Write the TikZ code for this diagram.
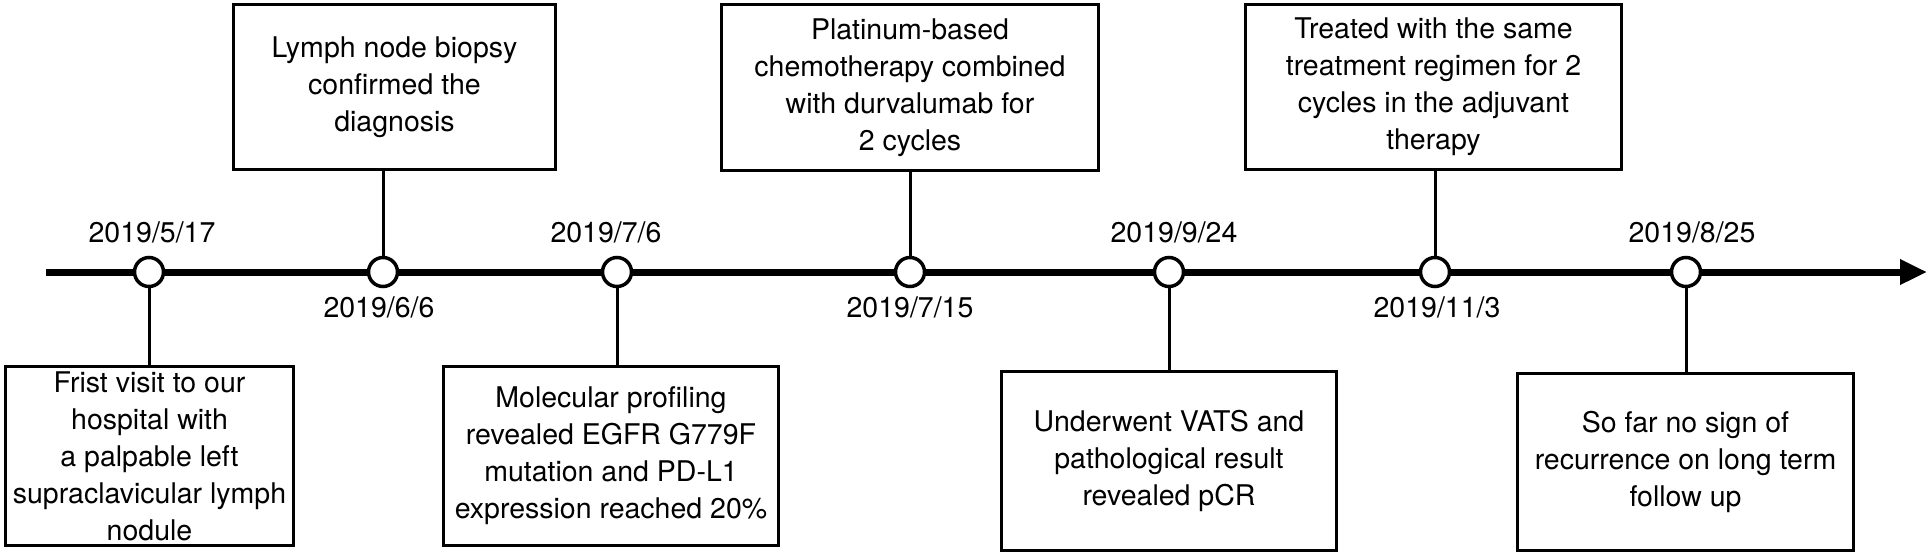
\documentclass[tikz,border=0pt]{standalone}
\usepackage{fontspec}
\setmainfont{TeX Gyre Heros}
\usetikzlibrary{arrows.meta}
\tikzset{
  evbox/.style={draw, line width=3.2pt, align=center, inner sep=0pt,
    font=\fontsize{28.5}{37}\selectfont},
  evdot/.style={circle, draw, line width=3.5pt, fill=white, minimum size=29pt, inner sep=0pt},
  datelbl/.style={font=\fontsize{28.5}{34}\selectfont, inner sep=0pt},
  link/.style={line width=3pt},
  axis/.style={line width=7pt, -{Triangle[length=27pt,width=24pt]}}
}
\begin{document}
\begin{tikzpicture}[x=1pt,y=-1pt]
\useasboundingbox (0,0) rectangle (1928,555);
% axis
\coordinate (start) at (46,272);
\coordinate (end) at (1927,272);
\draw[axis] (start) -- (end);
% event dots (positions)
\coordinate (p1) at (149,272);
\coordinate (p2) at (383,272);
\coordinate (p3) at (617,272);
\coordinate (p4) at (910,272);
\coordinate (p5) at (1169,272);
\coordinate (p6) at (1435,272);
\coordinate (p7) at (1686,272);
% boxes
\node[evbox, minimum width=288pt, minimum height=179pt] (b1) at (149.5,456)
  {Frist visit to our\\hospital with\\a palpable left\\supraclavicular lymph\\nodule};
\node[evbox, minimum width=322pt, minimum height=165pt] (b2) at (394.5,87)
  {Lymph node biopsy\\confirmed the\\diagnosis};
\node[evbox, minimum width=335pt, minimum height=179pt] (b3) at (611,456)
  {Molecular profiling\\revealed EGFR G779F\\mutation and PD-L1\\expression reached 20\%};
\node[evbox, minimum width=377pt, minimum height=166pt] (b4) at (910,87.5)
  {Platinum-based\\chemotherapy combined\\with durvalumab for\\2 cycles};
\node[evbox, minimum width=335pt, minimum height=179pt] (b5) at (1169,461)
  {Underwent VATS and\\pathological result\\revealed pCR};
\node[evbox, minimum width=376pt, minimum height=165pt] (b6) at (1433.5,87)
  {Treated with the same\\treatment regimen for 2\\cycles in the adjuvant\\therapy};
\node[evbox, minimum width=336pt, minimum height=177pt] (b7) at (1685.5,462)
  {So far no sign of\\recurrence on long term\\follow up};
% connectors
\draw[link] (p1) -- (p1 |- b1.north);
\draw[link] (p2) -- (p2 |- b2.south);
\draw[link] (p3) -- (p3 |- b3.north);
\draw[link] (p4) -- (p4 |- b4.south);
\draw[link] (p5) -- (p5 |- b5.north);
\draw[link] (p6) -- (p6 |- b6.south);
\draw[link] (p7) -- (p7 |- b7.north);
% dots
\node[evdot] (c1) at (p1) {};
\node[evdot] (c2) at (p2) {};
\node[evdot] (c3) at (p3) {};
\node[evdot] (c4) at (p4) {};
\node[evdot] (c5) at (p5) {};
\node[evdot] (c6) at (p6) {};
\node[evdot] (c7) at (p7) {};
% dates
\node[datelbl] (d1) at (152,232) {2019/5/17};
\node[datelbl] (d2) at (379,307) {2019/6/6};
\node[datelbl] (d3) at (606,232) {2019/7/6};
\node[datelbl] (d4) at (910,307) {2019/7/15};
\node[datelbl] (d5) at (1174,232) {2019/9/24};
\node[datelbl] (d6) at (1437,307) {2019/11/3};
\node[datelbl] (d7) at (1692,232) {2019/8/25};
\end{tikzpicture}
\end{document}
